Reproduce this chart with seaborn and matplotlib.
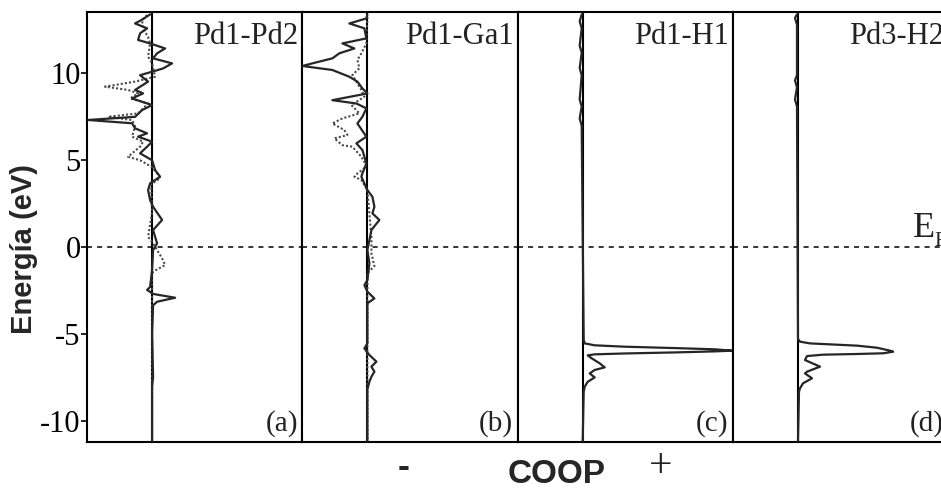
import matplotlib
matplotlib.use('agg')
import matplotlib.pyplot as plt
import numpy as np
import seaborn as sns

# ---- data: energy (eV) and COOP (arb. units) ----
panel_names = ['Pd1-Pd2', 'Pd1-Ga1', 'Pd1-H1', 'Pd3-H2']
panel_tags = ['(a)', '(b)', '(c)', '(d)']

a_solid_e = [13.4, 13.1, 12.88, 12.6, 12.31, 11.93, 11.73, 11.44, 11.16, 10.87, 10.58, 10.29, 10.1, 9.9,
             9.53, 9.05, 8.85, 8.56, 8.18, 7.89, 7.5, 7.32, 7.13, 6.84, 6.55, 6.36, 6.07, 5.78, 5.4, 5.0,
             4.44, 4.05, 3.67, 3.28, 2.71, 2.32, 1.56, 0.98, 0.21, -0.17, -1.33, -2.3, -2.47, -2.7, -2.92,
             -3.15, -3.35, -5.0, -7.5, -8.0, -11.2]
a_solid_c = [-0.02, -0.10, -0.17, -0.05, -0.12, -0.14, -0.02, 0.13, 0.05, 0.01, 0.20, 0.11, 0.0, -0.12,
             -0.04, -0.17, -0.09, -0.20, 0.0, -0.10, -0.17, -0.64, -0.20, -0.17, -0.05, -0.14, 0.0, -0.05, -0.12, 0.0,
             0.03, 0.08, -0.02, -0.04, -0.02, 0.01, 0.10, 0.01, 0.05, 0.01, 0.0, -0.02, -0.05, 0.01, 0.23,
             0.05, 0.01, 0.0, 0.01, 0.0, 0.0]
a_dot_e = [13.36, 13.07, 12.6, 12.1, 11.73, 10.97, 10.58, 9.81, 9.53, 9.24, 9.05, 8.85, 8.56, 8.27, 7.7,
           7.5, 7.32, 6.94, 6.36, 6.07, 5.78, 5.2, 5.0, 4.6, 4.24, 3.97, 3.6, 2.0, 0.59, 0.2, -0.65, -1.04,
           -1.42, -1.6, -11.2]
a_dot_c = [-0.05, -0.10, -0.09, -0.04, -0.02, -0.04, 0.0, 0.03, -0.17, -0.47, -0.24, -0.14, -0.22, -0.04, -0.14,
           -0.44, -0.20, -0.17, -0.20, -0.09, -0.12, -0.24, -0.12, 0.0, 0.05, 0.08, -0.01, 0.0, -0.04, 0.01, 0.10, 0.13,
           0.01, 0.0, 0.0]

b_solid_e = [13.4, 13.17, 12.88, 12.6, 12.02, 11.73, 11.44, 11.16, 10.87, 10.58, 10.43, 10.2, 9.81, 9.53,
             9.14, 8.85, 8.46, 8.27, 7.99, 7.5, 7.12, 6.36, 5.97, 5.59, 4.82, 4.24, 4.05, 3.28, 2.9, 2.32,
             1.94, 1.56, 0.98, 0.4, -0.17, -0.94, -1.9, -2.2, -2.57, -2.96, -3.24, -5.55, -5.84, -6.22,
             -6.6, -6.89, -7.18, -7.47, -7.76, -8.2, -11.2]
b_solid_c = [0.0, -0.01, -0.18, -0.03, -0.01, -0.25, -0.13, -0.28, -0.35, -0.55, -0.65, -0.35, -0.18, -0.10,
             -0.05, 0.0, -0.35, -0.11, -0.01, -0.05, -0.10, -0.01, -0.11, -0.05, -0.01, -0.05, -0.06, 0.0, 0.05, 0.07,
             0.05, 0.12, 0.04, 0.02, 0.0, 0.02, 0.0, -0.03, 0.0, 0.07, 0.0, 0.0, -0.03, 0.02,
             0.09, 0.04, 0.07, 0.04, 0.02, 0.0, 0.0]
b_dot_e = [13.26, 11.73, 11.16, 10.78, 10.3, 9.91, 9.53, 9.05, 8.66, 8.18, 7.7, 7.41, 7.12, 6.74, 6.45,
           6.26, 5.87, 5.78, 5.2, 4.9, 4.62, 4.24, 4.05, 3.86, 3.28, 0.59, -0.36, -1.1, -1.5, -11.2]
b_dot_c = [0.0, -0.01, -0.06, -0.10, -0.08, -0.15, -0.11, -0.06, -0.03, -0.16, -0.08, -0.25, -0.35, -0.23, -0.20,
           -0.33, -0.25, -0.15, -0.06, -0.03, -0.01, -0.10, -0.13, -0.06, 0.0, 0.04, 0.04, 0.07, 0.0, 0.0]

c_solid_e = [13.4, 13.0, 12.6, 11.6, 11.2, 10.3, 9.9, 8.5, 8.1, 7.4, 7.0, -5.35, -5.55, -5.66, -5.74, -5.82,
             -5.89, -5.97, -6.01, -6.07, -6.13, -6.18, -6.24, -6.41, -6.7, -6.93, -7.08, -7.28, -7.51,
             -7.76, -8.05, -8.33, -11.2]
c_solid_c = [-0.01, -0.03, -0.01, -0.03, -0.01, -0.03, -0.01, -0.03, -0.01, -0.03, -0.01, 0.01, 0.02, 0.12, 0.42, 0.92,
             1.32, 1.49, 1.32, 0.92, 0.42, 0.12, 0.05, 0.09, 0.17, 0.22, 0.12, 0.07, 0.12,
             0.05, 0.02, 0.01, 0.0]

d_solid_e = [13.4, 13.2, 12.8, 9.9, 9.6, 9.2, 8.5, 8.1, -5.3, -5.45, -5.55, -5.68, -5.8, -5.97, -6.03,
             -6.12, -6.16, -6.2, -6.28, -6.51, -6.89, -7.18, -7.28, -7.56, -7.85, -8.14, -8.33, -11.2]
d_solid_c = [-0.01, -0.03, -0.01, -0.01, -0.03, -0.01, -0.03, -0.01, 0.0, 0.02, 0.12, 0.59, 0.79, 0.92, 0.95,
             0.85, 0.59, 0.25, 0.09, 0.07, 0.22, 0.09, 0.07, 0.14, 0.05, 0.02, 0.01, 0.0]

y_ticks = [-10, -5, 0, 5, 10]

solid = [(a_solid_c, a_solid_e), (b_solid_c, b_solid_e), (c_solid_c, c_solid_e), (d_solid_c, d_solid_e)]
dotted = [(a_dot_c, a_dot_e), (b_dot_c, b_dot_e), None, None]

sns.set_theme(style='white')
plt.rcParams['font.family'] = ['Liberation Serif', 'DejaVu Serif']
plt.rcParams['axes.unicode_minus'] = False

W, H = 941, 488
fig = plt.figure(figsize=(W / 100, H / 100), dpi=100)

left0, pw = 87, 215.3
top, bot = 12, 442
for i in range(4):
    ax = fig.add_axes([(left0 + i * pw) / W, (H - bot) / H, pw / W, (bot - top) / H])
    ax.axhline(0, color='black', lw=1.1, linestyle=(0, (3.3, 3.3)), zorder=1)
    ax.axvline(0, color='black', lw=1.5, zorder=2)
    if dotted[i] is not None:
        sns.lineplot(x=dotted[i][0], y=dotted[i][1], sort=False, estimator=None, ax=ax,
                     color='#4a4a4a', lw=1.5, linestyle=(0, (1, 1)), zorder=3)
    sns.lineplot(x=solid[i][0], y=solid[i][1], sort=False, estimator=None, ax=ax,
                 color='#262626', lw=1.6, zorder=4)
    ax.set_xlim(-0.65, 1.5)
    ax.set_ylim(-11.23, 13.54)
    ax.set_xticks([])
    for s in ax.spines.values():
        s.set_color('black')
        s.set_linewidth(1.5)
    if i == 0:
        ax.set_yticks(y_ticks)
        ax.tick_params(axis='y', left=True, direction='out', length=4, width=1.2,
                       labelsize=22, pad=0.5, colors='black')
    else:
        ax.set_yticks([])
    ax.text(0.98, 0.977, panel_names[i], transform=ax.transAxes, ha='right', va='top',
            fontsize=22, color='#222222')
    ax.text(0.98, 0.012, panel_tags[i], transform=ax.transAxes, ha='right', va='bottom',
            fontsize=21, color='#222222')
    ax.set_xlabel('')
    ax.set_ylabel('')

fig.text(24 / W, 1 - 249 / H, 'Energía (eV)', rotation=90, ha='center', va='center',
         fontsize=21, fontweight='bold', family=['Liberation Sans', 'DejaVu Sans'])
fig.text(557 / W, (H - 483) / H, 'COOP', ha='center', va='baseline',
         fontsize=24, fontweight='bold', family=['Liberation Sans', 'DejaVu Sans'])
fig.text(404 / W, (H - 477) / H, '-', ha='center', va='baseline',
         fontsize=26, fontweight='bold', family=['Liberation Sans', 'DejaVu Sans'])
fig.text(661 / W, (H - 477) / H, '+', ha='center', va='baseline', fontsize=30, color='#222222')
fig.text(913 / W, (H - 237) / H, 'E', ha='left', va='baseline', fontsize=26, color='#222222')
fig.text(934 / W, (H - 246) / H, 'F', ha='left', va='baseline', fontsize=15, color='#222222')

fig.savefig('out.png', dpi=100)
